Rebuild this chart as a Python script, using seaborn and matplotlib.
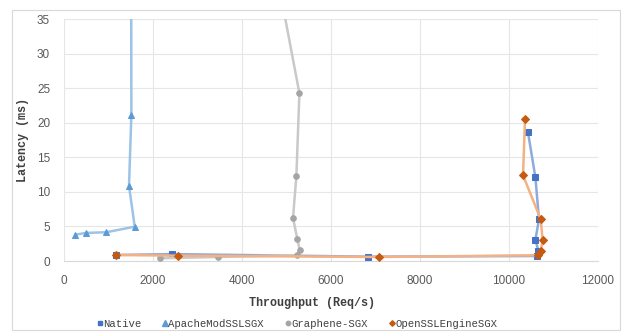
import matplotlib
matplotlib.use("Agg")
import matplotlib.pyplot as plt
import seaborn as sns
import pandas as pd
from matplotlib.lines import Line2D
from matplotlib.patches import Rectangle

# ---- data ----
native_x = [1177, 2427, 6831, 10629, 10661, 10593, 10674, 10593, 10427]
native_y = [0.87, 1.00, 0.63, 0.72, 1.50, 3.04, 6.04, 12.1, 18.6]

apache_x = [256, 488, 952, 1589, 1461, 1514, 1505]
apache_y = [3.80, 4.06, 4.16, 4.97, 10.87, 21.16, 60.0]

graphene_x = [2157, 3461, 5229, 5297, 5245, 5146, 5222, 5290, 4680]
graphene_y = [0.39, 0.58, 0.83, 1.60, 3.14, 6.23, 12.3, 24.25, 45.0]

openssl_x = [1177, 2555, 7072, 10645, 10712, 10757, 10712, 10315, 10360]
openssl_y = [0.87, 0.77, 0.58, 0.83, 1.50, 3.00, 6.04, 12.4, 20.5]

series_names = ["Native", "ApacheModSSLSGX", "Graphene-SGX", "OpenSSLEngineSGX"]
x_ticks = [0, 2000, 4000, 6000, 8000, 10000, 12000]
y_ticks = [0, 5, 10, 15, 20, 25, 30, 35]

sns.set_theme(style="white")
mono = ["Liberation Mono", "DejaVu Sans Mono"]
plt.rcParams["font.family"] = ["Liberation Sans", "DejaVu Sans"]

fig = plt.figure(figsize=(6.24, 3.35), dpi=100)
ax = fig.add_axes([64 / 624, 1 - 261 / 335, (598 - 64) / 624, (261 - 19) / 335])

styles = [
    (native_x, native_y, "#8FAADC", "#4472C4", "s", 4.0),
    (apache_x, apache_y, "#9DC3E6", "#5B9BD5", "^", 4.5),
    (graphene_x, graphene_y, "#C9C9C9", "#A5A5A5", "o", 4.0),
    (openssl_x, openssl_y, "#F4B183", "#C55A11", "D", 3.6),
]

handles = []
for name, (xs, ys, lc, mc, mk, ms) in zip(series_names, styles):
    df = pd.DataFrame({"x": xs, "y": ys})
    sns.lineplot(data=df, x="x", y="y", sort=False, estimator=None, ax=ax,
                 color=lc, linewidth=1.8, marker=mk, markersize=ms,
                 markerfacecolor=mc, markeredgecolor=mc, zorder=3)
    handles.append(Line2D([0], [0], color=lc, linewidth=0, marker=mk,
                          markersize=ms - 0.8, markerfacecolor=mc,
                          markeredgecolor=mc, label=name))

ax.set_xlim(0, 12000)
ax.set_ylim(0, 35)
ax.set_xticks(x_ticks)
ax.set_yticks(y_ticks)
ax.grid(True, color="#E6E6E6", linewidth=0.8)
ax.set_axisbelow(True)
for s in ["top", "right", "left"]:
    ax.spines[s].set_visible(False)
ax.spines["bottom"].set_color("#D9D9D9")
ax.spines["bottom"].set_linewidth(0.8)
ax.tick_params(axis="both", length=0, labelsize=8.5, labelcolor="#595959")
ax.tick_params(axis="x", pad=10)
ax.tick_params(axis="y", pad=10)

ax.set_xlabel("Throughput (Req/s)", family=mono, fontsize=8.5,
              fontweight="bold", color="#404040")
ax.set_ylabel("Latency (ms)", family=mono, fontsize=8.5,
              fontweight="bold", color="#404040")
ax.xaxis.set_label_coords(0.465, -0.15)
ax.yaxis.set_label_coords(-0.065, 0.5)

fig.legend(handles=handles, loc="center", bbox_to_anchor=(297 / 624, 1 - 324 / 335),
           ncol=4, frameon=False, prop={"family": mono, "size": 7.7},
           handlelength=0.5, handletextpad=0.05, columnspacing=2.0,
           labelcolor="#404040")

fig.patches.append(Rectangle((12 / 624, 5 / 335), 608 / 624, 320 / 335,
                             transform=fig.transFigure, fill=False,
                             edgecolor="#D9D9D9", linewidth=0.8))

fig.savefig("out.png", dpi=100)
